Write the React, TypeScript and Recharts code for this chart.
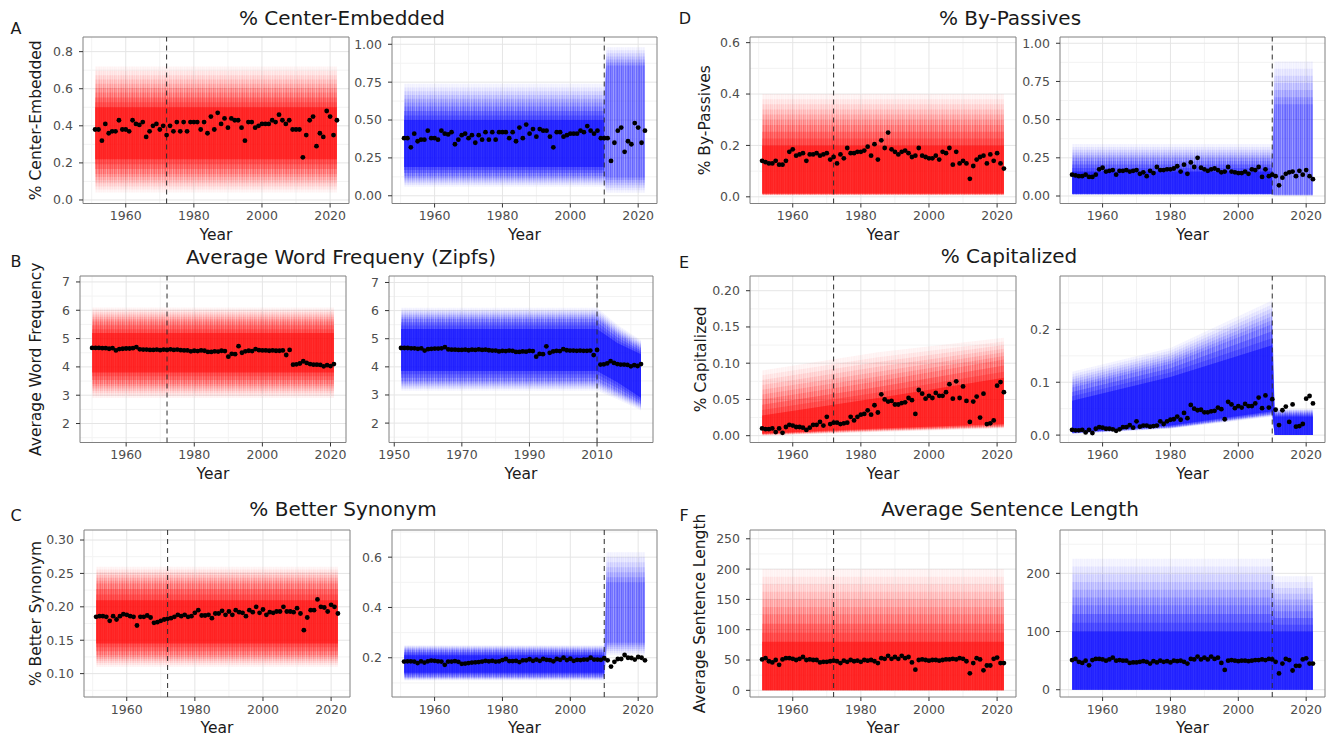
import { Area, CartesianGrid, ComposedChart, ReferenceArea, ReferenceLine, Scatter, XAxis, YAxis } from "recharts";

const FONT = '"DejaVu Sans", "Liberation Sans", sans-serif';
const RED = "#ff0a0a";
const BLUE = "#0a0aff";

// observed yearly values (black dots), 1951-2022 unless noted
const centerEmbedded = [
  0.38, 0.38, 0.32, 0.41, 0.36, 0.37, 0.37, 0.43, 0.38, 0.38,
  0.37, 0.43, 0.41, 0.405, 0.42, 0.34, 0.37, 0.40, 0.41, 0.38,
  0.40, 0.35, 0.40, 0.37, 0.42, 0.37, 0.42, 0.37, 0.42, 0.42,
  0.42, 0.38, 0.42, 0.36, 0.45, 0.38, 0.47, 0.41, 0.44, 0.39,
  0.44, 0.43, 0.43, 0.39, 0.32, 0.42, 0.42, 0.39, 0.40, 0.41,
  0.41, 0.41, 0.43, 0.42, 0.46, 0.43, 0.41, 0.43, 0.38, 0.38,
  0.38,
  0.23, 0.35, 0.43, 0.45, 0.29, 0.36, 0.34, 0.48, 0.45, 0.35, 0.43,
];

// word frequency is plotted from 1950 on the left axis
const wordFreq = [
  4.67, 4.67, 4.67, 4.66, 4.66, 4.64, 4.66, 4.58, 4.63, 4.64,
  4.65, 4.65, 4.66, 4.70, 4.62, 4.61, 4.61, 4.60, 4.60, 4.61,
  4.59, 4.61, 4.60, 4.62, 4.60, 4.61, 4.59, 4.58, 4.58, 4.55,
  4.57, 4.56, 4.58, 4.57, 4.53, 4.53, 4.55, 4.54, 4.57, 4.56,
  4.36, 4.46, 4.45, 4.73, 4.50, 4.55, 4.57, 4.56, 4.63, 4.59,
  4.58, 4.58, 4.57, 4.58, 4.57, 4.57, 4.58, 4.42, 4.60,
  4.08, 4.09, 4.12, 4.20, 4.14, 4.10, 4.08, 4.08, 4.07, 4.02, 4.06, 4.03, 4.10,
];

const betterSynonym = [
  0.185, 0.186, 0.186, 0.185, 0.179, 0.186, 0.181, 0.186, 0.189, 0.188,
  0.186, 0.185, 0.172, 0.185, 0.185, 0.187, 0.184, 0.176, 0.177, 0.179,
  0.181, 0.182, 0.183, 0.185, 0.188, 0.186, 0.188, 0.185, 0.186, 0.191,
  0.195, 0.187, 0.187, 0.188, 0.183, 0.190, 0.190, 0.194, 0.188, 0.193,
  0.188, 0.195, 0.192, 0.191, 0.186, 0.195, 0.192, 0.200, 0.191, 0.196,
  0.188, 0.192, 0.191, 0.193, 0.193, 0.200, 0.193, 0.193, 0.192, 0.198,
  0.190, 0.165, 0.184, 0.195, 0.195, 0.211, 0.200, 0.199, 0.193, 0.203,
  0.200, 0.190,
];

const byPassives = [
  0.14, 0.135, 0.13, 0.13, 0.14, 0.125, 0.125, 0.14, 0.175, 0.185,
  0.16, 0.165, 0.17, 0.14, 0.165, 0.165, 0.17, 0.16, 0.165, 0.17,
  0.145, 0.155, 0.13, 0.165, 0.15,
  0.19, 0.17, 0.17, 0.175, 0.175, 0.18, 0.195, 0.16, 0.205, 0.145, 0.22, 0.19, 0.25, 0.185,
  0.175, 0.165, 0.175, 0.18, 0.17, 0.155, 0.16, 0.19, 0.16, 0.155,
  0.15, 0.15, 0.16, 0.145, 0.175, 0.17, 0.19,
  0.125, 0.175, 0.13, 0.14, 0.13,
  0.07, 0.12, 0.145, 0.155, 0.16, 0.13, 0.165, 0.14, 0.17, 0.13, 0.11,
];

const capitalized = [
  0.010, 0.009, 0.009, 0.010, 0.005, 0.010, 0.004, 0.012, 0.015, 0.014,
  0.012, 0.012, 0.011, 0.008, 0.011, 0.015, 0.015, 0.019, 0.014, 0.026,
  0.016, 0.018, 0.018, 0.016, 0.017, 0.018,
  0.026, 0.021, 0.026, 0.029, 0.030, 0.035, 0.029, 0.042, 0.032, 0.057,
  0.050, 0.047, 0.048, 0.043, 0.043, 0.045, 0.046, 0.052, 0.049, 0.030,
  0.063, 0.058, 0.051, 0.055, 0.052, 0.059, 0.055, 0.055, 0.060, 0.071, 0.051,
  0.075, 0.052, 0.068, 0.048,
  0.019, 0.047, 0.054, 0.025, 0.058, 0.016, 0.017, 0.021, 0.069, 0.074, 0.060,
];

const sentenceLength = [
  51, 53, 48, 46, 50, 42, 51, 53, 53, 52,
  50, 52, 55, 50, 51, 50, 50, 46, 47, 47,
  48, 49, 48, 45, 49, 47, 50, 48, 49, 47,
  50, 49, 50, 48, 45, 53, 52, 57, 52, 55,
  52, 57, 53, 55, 46, 34,
  50, 51, 50, 49, 50, 50, 49, 50, 51, 51, 52, 51, 53, 52, 48,
  28, 45, 53, 51, 33, 41, 41, 52, 54, 45, 45,
];

// envelopes of the simulated draws at anchor years:
// outer = faint extent, mid = where the shading becomes dense, core = darkest part
const bandCenterLeft = [
  { year: 1951, outer: [0.04, 0.72], mid: [0.14, 0.58], core: [0.22, 0.5] },
  { year: 2022, outer: [0.04, 0.72], mid: [0.14, 0.58], core: [0.22, 0.5] },
];
const bandCenterRight = [
  { year: 1951, outer: [0.06, 0.74], mid: [0.13, 0.59], core: [0.19, 0.5] },
  { year: 2010, outer: [0.06, 0.74], mid: [0.13, 0.59], core: [0.19, 0.5] },
  { year: 2010.7, outer: [0.02, 0.98], mid: [0.12, 0.86], core: null },
  { year: 2022, outer: [0.02, 0.98], mid: [0.12, 0.86], core: null },
];
const bandFreqLeft = [
  { year: 1950, outer: [2.9, 6.1], mid: [3.4, 5.6], core: [3.8, 5.2] },
  { year: 2021, outer: [2.9, 6.1], mid: [3.4, 5.6], core: [3.8, 5.2] },
];
const bandFreqRight = [
  { year: 1952, outer: [3.15, 6.1], mid: [3.5, 5.7], core: [3.85, 5.35] },
  { year: 2010, outer: [3.15, 6.1], mid: [3.5, 5.7], core: [3.85, 5.35] },
  { year: 2016, outer: [2.85, 5.5], mid: [3.15, 5.15], core: [3.45, 4.85] },
  { year: 2023, outer: [2.45, 4.95], mid: [2.7, 4.65], core: [2.9, 4.45] },
];
const bandSynLeft = [
  { year: 1951, outer: [0.11, 0.26], mid: [0.128, 0.235], core: [0.145, 0.21] },
  { year: 2022, outer: [0.11, 0.26], mid: [0.128, 0.235], core: [0.145, 0.21] },
];
const bandSynRight = [
  { year: 1951, outer: [0.11, 0.25], mid: [0.125, 0.23], core: [0.14, 0.21] },
  { year: 2010, outer: [0.11, 0.25], mid: [0.125, 0.23], core: [0.14, 0.21] },
  { year: 2010.7, outer: [0.21, 0.62], mid: [0.26, 0.5], core: null },
  { year: 2022, outer: [0.21, 0.62], mid: [0.26, 0.5], core: null },
];
const bandPassLeft = [
  { year: 1951, outer: [0.005, 0.4], mid: [0.01, 0.28], core: [0.013, 0.2] },
  { year: 2022, outer: [0.005, 0.4], mid: [0.01, 0.28], core: [0.013, 0.2] },
];
const bandPassRight = [
  { year: 1951, outer: [0.008, 0.34], mid: [0.012, 0.23], core: [0.015, 0.16] },
  { year: 2010, outer: [0.008, 0.34], mid: [0.012, 0.23], core: [0.015, 0.16] },
  { year: 2010.7, outer: [0.0, 0.88], mid: [0.01, 0.6], core: null },
  { year: 2022, outer: [0.0, 0.88], mid: [0.01, 0.6], core: null },
];
const bandCapLeft = [
  { year: 1951, outer: [0.0, 0.09], mid: [0.002, 0.05], core: [0.003, 0.028] },
  { year: 1985, outer: [0.005, 0.115], mid: [0.008, 0.075], core: [0.01, 0.052] },
  { year: 2022, outer: [0.01, 0.135], mid: [0.013, 0.105], core: [0.016, 0.08] },
];
const bandCapRight = [
  { year: 1951, outer: [0.002, 0.12], mid: [0.004, 0.09], core: [0.005, 0.065] },
  { year: 1980, outer: [0.012, 0.165], mid: [0.015, 0.135], core: [0.018, 0.11] },
  { year: 2010, outer: [0.035, 0.255], mid: [0.04, 0.21], core: [0.045, 0.17] },
  { year: 2010.7, outer: [0, 0.05], mid: [0, 0.042], core: [0, 0.035] },
  { year: 2022, outer: [0, 0.05], mid: [0, 0.042], core: [0, 0.035] },
];
const bandLenLeft = [
  { year: 1951, outer: [0, 200], mid: [0, 125], core: [0, 80] },
  { year: 2022, outer: [0, 200], mid: [0, 125], core: [0, 80] },
];
const bandLenRight = [
  { year: 1951, outer: [0, 225], mid: [0, 145], core: [0, 100] },
  { year: 2010, outer: [0, 225], mid: [0, 145], core: [0, 100] },
  { year: 2010.7, outer: [0, 195], mid: [0, 135], core: [0, 100] },
  { year: 2022, outer: [0, 195], mid: [0, 135], core: [0, 100] },
];

// axis breaks
const yearTicks = [1960, 1980, 2000, 2020];
const yearMinor = [1950, 1970, 1990, 2010];
const freqRightTicks = [1950, 1970, 1990, 2010];
const freqRightMinor = [1960, 1980, 2000, 2020];

// shading layers: outer -> mid (streaky fade), mid -> core (solid build-up), then core
const FADE_OPACITY = [0.06, 0.075, 0.1, 0.12, 0.15, 0.18, 0.22];
const INNER_OPACITY = [0.25, 0.25];
const CORE_OPACITY = 0.55;

const lerp = (a: any, b: any, t: number) => {
  if (!Array.isArray(a) || !Array.isArray(b)) return null;
  return [a[0] + (b[0] - a[0]) * t, a[1] + (b[1] - a[1]) * t];
};

const points = (vals: number[], start: number) => vals.map((v, i) => ({ year: start + i, v }));

const dot = (p: any) => <circle cx={p.cx} cy={p.cy} r={2.4} fill="#000" />;

const STRIPES = [1, 0.7, 0.9, 0.6, 1, 0.75, 0.85, 0.55, 0.95, 0.65, 0.8];

function Panel(props: any) {
  const { x, y, w, h, xDomain, xTicks, xMinor, yDomain, yTicks, yMinor, digits, band, dots, color, tag, vline, yLabel, yLabelX } = props;
  const axisW = 72;
  const padTop = 4;
  const padRight = 8;
  const xAxisH = 36;
  const left = x - axisW;
  const n = FADE_OPACITY.length;
  const m = INNER_OPACITY.length + 1;
  const common = { type: "linear" as const, stroke: "none", dot: false, activeDot: false, isAnimationActive: false };
  return (
    <div style={{ position: "absolute", left, top: y - padTop }}>
      <ComposedChart
        width={axisW + w + padRight}
        height={padTop + h + xAxisH}
        data={band}
        margin={{ top: padTop, right: padRight, bottom: 0, left: 0 }}
        style={{ fontFamily: FONT }}
      >
        <defs>
          <pattern id={`streak-${tag}`} width={STRIPES.length} height={4} patternUnits="userSpaceOnUse">
            {STRIPES.map((o, i) => (
              <rect key={i} x={i} y={0} width={1} height={4} fill={color} fillOpacity={o} />
            ))}
          </pattern>
        </defs>
        <CartesianGrid verticalValues={xMinor} horizontalValues={yMinor} stroke="#f3f3f3" />
        <CartesianGrid verticalValues={xTicks} horizontalValues={yTicks} stroke="#e5e5e5" />
        <XAxis
          type="number"
          dataKey="year"
          domain={xDomain}
          ticks={xTicks}
          allowDataOverflow
          axisLine={false}
          tickSize={4}
          tickMargin={4}
          tickLine={{ stroke: "#333" }}
          tick={{ fill: "#4d4d4d", fontSize: 12.5 }}
          height={xAxisH}
          label={{ value: "Year", position: "insideBottom", offset: 0, fill: "#1a1a1a", fontSize: 15.5 }}
        />
        <YAxis
          type="number"
          domain={yDomain}
          ticks={yTicks}
          allowDataOverflow
          axisLine={false}
          width={axisW}
          tickSize={4}
          tickMargin={6}
          tickLine={{ stroke: "#333" }}
          tick={{ fill: "#4d4d4d", fontSize: 12.5 }}
          tickFormatter={(v: number) => v.toFixed(digits)}
          label={
            yLabel
              ? {
                  value: yLabel,
                  angle: -90,
                  position: "insideLeft",
                  offset: yLabelX - left,
                  fill: "#1a1a1a",
                  fontSize: 15.5,
                  style: { textAnchor: "middle" },
                }
              : undefined
          }
        />
        {FADE_OPACITY.map((op, k) => (
          <Area
            key={`f${k}`}
            {...common}
            dataKey={(d: any) => lerp(d?.outer, d?.mid, k / (n - 1))}
            fill={`url(#streak-${tag})`}
            fillOpacity={op}
          />
        ))}
        {INNER_OPACITY.map((op, j) => (
          <Area
            key={`i${j}`}
            {...common}
            dataKey={(d: any) => lerp(d?.mid, d?.core, (j + 1) / m)}
            fill={color}
            fillOpacity={op}
          />
        ))}
        <Area {...common} dataKey="core" fill={color} fillOpacity={CORE_OPACITY} />
        <ReferenceLine x={vline} stroke="#2e2e2e" strokeDasharray="5 4" />
        <Scatter data={dots} dataKey="v" shape={dot} isAnimationActive={false} />
        <ReferenceArea x1={xDomain[0]} x2={xDomain[1]} y1={yDomain[0]} y2={yDomain[1]} fill="none" stroke="#808080" />
      </ComposedChart>
    </div>
  );
}

function Text({ x, y, size, children }: any) {
  return (
    <div
      style={{
        position: "absolute",
        left: x,
        top: y - size / 2,
        transform: "translateX(-50%)",
        fontFamily: FONT,
        fontSize: size,
        lineHeight: `${size}px`,
        color: "#1a1a1a",
        whiteSpace: "nowrap",
      }}
    >
      {children}
    </div>
  );
}

const STD = [1947.45, 2025.55];

export default function App() {
  const ce = points(centerEmbedded, 1951);
  const wfL = points(wordFreq, 1950);
  const wfR = points(wordFreq, 1952);
  const bs = points(betterSynonym, 1951);
  const bp = points(byPassives, 1951);
  const cap = points(capitalized, 1951);
  const sl = points(sentenceLength, 1951);
  const r1 = { y: 37, h: 166.5 };
  const r2 = { y: 276, h: 166.5 };
  const r3 = { y: 529.5, h: 167 };
  const std = { xDomain: STD, xTicks: yearTicks, xMinor: yearMinor };
  const red = { color: RED, tag: "red", vline: 1972 };
  const blue = { color: BLUE, tag: "blue", vline: 2010 };
  return (
    <div style={{ position: "absolute", left: 0, top: 0, width: 1335, height: 736, background: "#fff", overflow: "hidden" }}>
      <style>{`.recharts-surface { overflow: visible; }`}</style>
      <Text x={342} y={18} size={20}>% Center-Embedded</Text>
      <Text x={341} y={257} size={20}>Average Word Frequeny (Zipfs)</Text>
      <Text x={343} y={509} size={20}>% Better Synonym</Text>
      <Text x={1010} y={18} size={20}>% By-Passives</Text>
      <Text x={1009} y={256} size={20}>% Capitalized</Text>
      <Text x={1010} y={509} size={20}>Average Sentence Length</Text>
      <Text x={16} y={29} size={16}>A</Text>
      <Text x={16} y={262} size={16}>B</Text>
      <Text x={16} y={516} size={16}>C</Text>
      <Text x={685} y={19} size={16}>D</Text>
      <Text x={684} y={263} size={16}>E</Text>
      <Text x={684} y={516} size={16}>F</Text>

      <Panel {...std} {...r1} {...red} x={83} w={266} yDomain={[-0.019, 0.879]} yTicks={[0, 0.2, 0.4, 0.6, 0.8]} yMinor={[0.1, 0.3, 0.5, 0.7]} digits={1} band={bandCenterLeft} dots={ce} yLabel="% Center-Embedded" yLabelX={35} />
      <Panel {...std} {...r1} {...blue} x={392} w={265} yDomain={[-0.051, 1.048]} yTicks={[0, 0.25, 0.5, 0.75, 1]} yMinor={[0.125, 0.375, 0.625, 0.875]} digits={2} band={bandCenterRight} dots={ce} />

      <Panel xDomain={[1946.45, 2024.55]} xTicks={yearTicks} xMinor={yearMinor} {...r2} {...red} x={80} w={266} yDomain={[1.33, 7.21]} yTicks={[2, 3, 4, 5, 6, 7]} yMinor={[1.5, 2.5, 3.5, 4.5, 5.5, 6.5]} digits={0} band={bandFreqLeft} dots={wfL} yLabel="Average Word Frequency" yLabelX={35} />
      <Panel xDomain={[1948.45, 2026.55]} xTicks={freqRightTicks} xMinor={freqRightMinor} {...r2} {...blue} x={389} w={264} yDomain={[1.31, 7.23]} yTicks={[2, 3, 4, 5, 6, 7]} yMinor={[1.5, 2.5, 3.5, 4.5, 5.5, 6.5]} digits={0} band={bandFreqRight} dots={wfR} />

      <Panel {...std} {...r3} {...red} x={84} w={266} yDomain={[0.065, 0.315]} yTicks={[0.1, 0.15, 0.2, 0.25, 0.3]} yMinor={[0.075, 0.125, 0.175, 0.225, 0.275]} digits={2} band={bandSynLeft} dots={bs} yLabel="% Better Synonym" yLabelX={35} />
      <Panel {...std} {...r3} {...blue} x={392} w={265} yDomain={[0.044, 0.708]} yTicks={[0.2, 0.4, 0.6]} yMinor={[0.1, 0.3, 0.5, 0.7]} digits={1} band={bandSynRight} dots={bs} />

      <Panel {...std} {...r1} {...red} x={750} w={266} yDomain={[-0.026, 0.622]} yTicks={[0, 0.2, 0.4, 0.6]} yMinor={[0.1, 0.3, 0.5]} digits={1} band={bandPassLeft} dots={bp} yLabel="% By-Passives" yLabelX={704} />
      <Panel {...std} {...r1} {...blue} x={1060} w={265} yDomain={[-0.049, 1.041]} yTicks={[0, 0.25, 0.5, 0.75, 1]} yMinor={[0.125, 0.375, 0.625, 0.875]} digits={2} band={bandPassRight} dots={bp} />

      <Panel {...std} {...r2} {...red} x={750} w={266} yDomain={[-0.0094, 0.2203]} yTicks={[0, 0.05, 0.1, 0.15, 0.2]} yMinor={[0.025, 0.075, 0.125, 0.175]} digits={2} band={bandCapLeft} dots={cap} yLabel="% Capitalized" yLabelX={700} />
      <Panel {...std} {...r2} {...blue} x={1060} w={265} yDomain={[-0.014, 0.301]} yTicks={[0, 0.1, 0.2]} yMinor={[0.05, 0.15, 0.25]} digits={1} band={bandCapRight} dots={cap} />

      <Panel {...std} {...r3} {...red} x={750} w={266} yDomain={[-11, 264.5]} yTicks={[0, 50, 100, 150, 200, 250]} yMinor={[25, 75, 125, 175, 225]} digits={0} band={bandLenLeft} dots={sl} yLabel="Average Sentence Length" yLabelX={699} />
      <Panel {...std} {...r3} {...blue} x={1060} w={265} yDomain={[-12.5, 274.5]} yTicks={[0, 100, 200]} yMinor={[50, 150, 250]} digits={0} band={bandLenRight} dots={sl} />
    </div>
  );
}
